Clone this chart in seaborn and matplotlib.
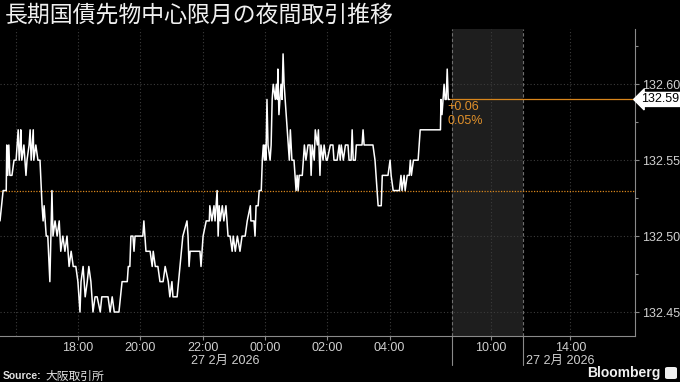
import numpy as np
import pandas as pd
import matplotlib
matplotlib.use("Agg")
import matplotlib.pyplot as plt
import seaborn as sns
from matplotlib.patches import FancyBboxPatch

# ---- data (minutes after 15:30 on 26 Feb, price) ----
minutes = [0, 6, 12, 13, 15, 17, 19, 23, 27, 31, 33, 35, 37, 39, 40, 42, 46, 48, 50, 52,
           56, 58, 60, 64, 65, 69, 73, 77, 81, 83, 85, 87, 89, 92, 96, 98, 100, 102, 106, 110,
           114, 117, 121, 125, 129, 133, 137, 141, 146, 150, 154, 156, 160, 164, 168, 171, 175, 179, 183, 187,
           193, 196, 202, 208, 212, 216, 220, 229, 235, 245, 247, 250, 252, 256, 258, 260, 275, 277, 279, 281,
           289, 293, 295, 299, 304, 308, 314, 318, 324, 327, 331, 333, 341, 352, 360, 362, 364, 366, 385, 387,
           389, 391, 397, 403, 404, 408, 412, 414, 418, 420, 422, 424, 428, 431, 435, 439, 443, 447, 449, 453,
           457, 462, 466, 472, 476, 482, 483, 489, 491, 493, 497, 499, 503, 505, 507, 509, 510, 512, 514, 516,
           520, 522, 524, 526, 530, 532, 534, 535, 537, 539, 541, 543, 545, 547, 551, 553, 557, 559, 562, 566,
           568, 570, 572, 574, 576, 582, 584, 586, 589, 593, 597, 599, 601, 605, 607, 611, 613, 616, 618, 622,
           624, 628, 630, 636, 641, 643, 649, 653, 655, 657, 661, 665, 670, 672, 676, 678, 680, 684, 686, 697,
           699, 701, 718, 722, 726, 728, 734, 736, 744, 747, 751, 753, 757, 769, 772, 774, 778, 780, 784, 788,
           790, 792, 796, 805, 809, 848, 849, 851, 853, 855, 857, 859, 861, 863, 865]
prices = [132.51, 132.53, 132.53, 132.56, 132.54, 132.56, 132.54, 132.54, 132.55, 132.55, 132.56, 132.57, 132.55, 132.56, 132.57, 132.55, 132.56, 132.55, 132.54, 132.55,
          132.56, 132.57, 132.55, 132.57, 132.55, 132.56, 132.55, 132.55, 132.52, 132.51, 132.52, 132.51, 132.50, 132.50, 132.47, 132.50, 132.53, 132.50, 132.51, 132.50,
          132.51, 132.49, 132.50, 132.49, 132.50, 132.48, 132.49, 132.48, 132.48, 132.47, 132.45, 132.47, 132.48, 132.46, 132.47, 132.48, 132.47, 132.45, 132.46, 132.46,
          132.45, 132.46, 132.46, 132.46, 132.45, 132.46, 132.45, 132.45, 132.47, 132.47, 132.48, 132.48, 132.50, 132.50, 132.49, 132.50, 132.50, 132.51, 132.50, 132.49,
          132.49, 132.48, 132.49, 132.48, 132.48, 132.47, 132.47, 132.48, 132.47, 132.46, 132.47, 132.46, 132.46, 132.50, 132.51, 132.50, 132.48, 132.49, 132.49, 132.48,
          132.49, 132.50, 132.51, 132.51, 132.52, 132.51, 132.52, 132.51, 132.53, 132.50, 132.52, 132.51, 132.52, 132.51, 132.52, 132.50, 132.50, 132.49, 132.50, 132.49,
          132.50, 132.49, 132.50, 132.50, 132.51, 132.52, 132.51, 132.51, 132.50, 132.52, 132.52, 132.53, 132.53, 132.55, 132.56, 132.55, 132.56, 132.55, 132.59, 132.56,
          132.55, 132.56, 132.59, 132.60, 132.59, 132.60, 132.59, 132.61, 132.58, 132.59, 132.60, 132.59, 132.62, 132.60, 132.58, 132.57, 132.55, 132.57, 132.55, 132.55,
          132.54, 132.53, 132.54, 132.53, 132.54, 132.54, 132.55, 132.56, 132.55, 132.56, 132.56, 132.54, 132.56, 132.55, 132.57, 132.56, 132.57, 132.54, 132.56, 132.55,
          132.56, 132.55, 132.55, 132.56, 132.56, 132.55, 132.55, 132.56, 132.55, 132.56, 132.55, 132.56, 132.56, 132.55, 132.55, 132.57, 132.55, 132.55, 132.56, 132.56,
          132.57, 132.56, 132.56, 132.55, 132.53, 132.52, 132.52, 132.54, 132.54, 132.54, 132.55, 132.54, 132.53, 132.53, 132.54, 132.53, 132.54, 132.53, 132.54, 132.54,
          132.55, 132.54, 132.55, 132.55, 132.57, 132.57, 132.59, 132.58, 132.59, 132.60, 132.59, 132.59, 132.61, 132.59, 132.59]

prev_close = 132.53
last_price = 132.59
change_label = "+0.06"
pct_label = "0.05%"

y_ticks = [132.45, 132.50, 132.55, 132.60]
y_minor = [132.475, 132.525, 132.575, 132.625]
x_major = [150, 270, 390, 510, 630, 750, 945, 1098]
x_labels = ["18:00", "20:00", "22:00", "00:00", "02:00", "04:00", "10:00", "14:00"]
x_minor = [30, 90, 210, 330, 450, 570, 690, 810, 886, 1036, 1160]
x_grid = [30, 150, 270, 390, 510, 630, 750, 945, 1098]
session_breaks = [870, 1006]
date_label = "27 2月 2026"
title = "長期国債先物中心限月の夜間取引推移"

df = pd.DataFrame({"minute": minutes, "price": prices})

sns.set_theme(style="dark")
plt.rcParams["font.family"] = ["Liberation Sans", "Noto Sans CJK JP", "DejaVu Sans"]

fig = plt.figure(figsize=(6.8, 3.82), dpi=100, facecolor="black")
ax = fig.add_axes([0.0, 0.1204, 0.9334, 0.8037])
ax.set_facecolor("black")

ax.set_xlim(0, 1222)
ax.set_ylim(132.4342, 132.6364)

# shaded day session
ax.axvspan(session_breaks[0], session_breaks[1], color="#1e1e1e", zorder=0, lw=0)

# grid
for gx in x_grid:
    ax.axvline(gx, color="#3c3c3c", lw=0.8, ls=(0, (1, 2)), zorder=1)
for gy in y_ticks:
    ax.axhline(gy, color="#3c3c3c", lw=0.8, ls=(0, (1, 2)), zorder=1)
for sx in session_breaks:
    ax.axvline(sx, color="#6e6e6e", lw=0.8, ls=(0, (3, 2)), zorder=1)
    ax.plot([sx, sx], [0, -0.095], transform=ax.get_xaxis_transform(),
            color="#8a8a8a", lw=0.8, clip_on=False)

# previous close line
ax.axhline(prev_close, color="#d9861c", lw=0.9, ls=(0, (1, 1.2)), zorder=2)

sns.lineplot(data=df, x="minute", y="price", color="white", lw=1.1,
             estimator=None, sort=False, ax=ax, zorder=3)

# last price line
ax.plot([minutes[-1], 1222], [last_price, last_price], color="#d9861c", lw=0.9, zorder=2)
ax.text(minutes[-1] - 3, last_price - 0.0053, change_label, color="#e0902a",
        fontsize=9, ha="left", va="center")
ax.text(minutes[-1] - 3, last_price - 0.0145, pct_label, color="#e0902a",
        fontsize=9, ha="left", va="center")
ax.annotate(f"{last_price:.2f}", xy=(1, last_price), xycoords=("axes fraction", "data"),
            xytext=(4.5, 0), textcoords="offset points", ha="left", va="center",
            fontsize=9, color="black", annotation_clip=False,
            bbox=dict(boxstyle="larrow,pad=0.08", fc="white", ec="white"))

# axes styling
ax.set_xlabel("")
ax.set_ylabel("")
for s in ["top", "left"]:
    ax.spines[s].set_visible(False)
for s in ["bottom", "right"]:
    ax.spines[s].set_visible(True)
    ax.spines[s].set_color("#8a8a8a")
    ax.spines[s].set_linewidth(0.8)

ax.yaxis.tick_right()
ax.set_yticks(y_ticks)
ax.set_yticklabels([f"{v:.2f}" for v in y_ticks])
ax.set_yticks(y_minor, minor=True)
ax.set_xticks(x_major)
ax.set_xticklabels(x_labels)
ax.set_xticks(x_minor, minor=True)
ax.tick_params(axis="both", which="major", length=3, width=0.8, color="#8a8a8a",
               labelcolor="#d0d0d0", labelsize=9, pad=2)
ax.tick_params(axis="both", which="minor", length=2.5, width=0.8, color="#8a8a8a")
ax.tick_params(axis="x", which="major", bottom=True, pad=1)
ax.tick_params(axis="y", which="both", right=True, left=False)
ax.grid(False)

# date labels
fig.text(225 / 680, 1 - 361 / 382, date_label, color="#d0d0d0", fontsize=9, ha="center", va="center")
fig.text(526 / 680, 1 - 361 / 382, date_label, color="#d0d0d0", fontsize=9, ha="left", va="center")

# title
fig.text(5 / 680, 1 - 15 / 382, title, color="#f0f0f0", fontsize=16.5, ha="left", va="center",
         family=["Noto Sans CJK JP", "DejaVu Sans"])

# source
fig.text(3 / 680, 1 - 376 / 382, "Source:", color="#e0e0e0", fontsize=7.5, fontweight="bold",
         ha="left", va="center")
fig.text(45 / 680, 1 - 376 / 382, "大阪取引所", color="#e0e0e0", fontsize=8.5,
         ha="left", va="center", family=["Noto Sans CJK JP", "DejaVu Sans"])

# Bloomberg mark
fig.text(660 / 680, 1 - 373 / 382, "Bloomberg", color="#f0f0f0", fontsize=10, fontweight="bold",
         ha="right", va="center")
logo = FancyBboxPatch((665 / 680, 1 - 379 / 382), 12 / 680, 12 / 382,
                      boxstyle="round,pad=0,rounding_size=0.004", transform=fig.transFigure,
                      fc="#f0f0f0", ec="none")
fig.patches.append(logo)

fig.savefig("out.png", dpi=100, facecolor="black")
